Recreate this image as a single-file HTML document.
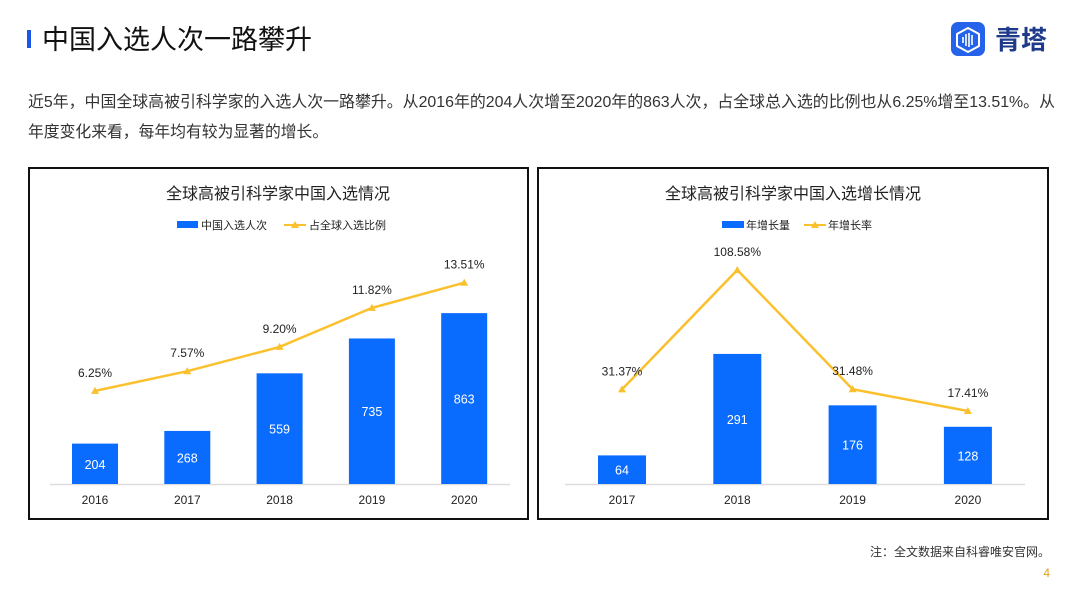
<!DOCTYPE html>
<html><head><meta charset="utf-8"><style>
html,body{margin:0;padding:0;background:#fff;}
body{width:1080px;height:603px;overflow:hidden;position:relative;font-family:"Liberation Sans","Noto Sans CJK SC",sans-serif;}
svg text{font-family:"Liberation Sans","Noto Sans CJK SC",sans-serif;}
</style></head><body>
<svg width="1080" height="603" viewBox="0 0 1080 603" xmlns="http://www.w3.org/2000/svg" id="root">
 <rect x="27" y="30" width="4" height="18" fill="#1a56e8"/>
 <text x="42" y="49" font-size="27" fill="#111" textLength="270" lengthAdjust="spacingAndGlyphs">中国入选人次一路攀升</text>
 <g>
  <rect x="951" y="22" width="34" height="34" rx="7" fill="#2563eb"/>
  <polygon points="968,28 979,34 979,46 968,52 957,46 957,34" fill="none" stroke="#fff" stroke-width="2"/>
  <g stroke="#fff" stroke-width="1.6"><line x1="963" y1="37" x2="963" y2="43"/><line x1="966" y1="34" x2="966" y2="46"/><line x1="969" y1="33" x2="969" y2="47"/><line x1="972" y1="35" x2="972" y2="45"/></g>
  <text x="995" y="49" font-size="26" fill="#1e3a8a" font-weight="bold">青塔</text>
 </g>
 <text x="28" y="107" font-size="15.8" fill="#333" textLength="1027" lengthAdjust="spacingAndGlyphs">近5年，中国全球高被引科学家的入选人次一路攀升。从2016年的204人次增至2020年的863人次，占全球总入选的比例也从6.25%增至13.51%。从</text>
 <text x="28" y="137" font-size="15.8" fill="#333">年度变化来看，每年均有较为显著的增长。</text>
 <rect x="29" y="168" width="499" height="351" fill="none" stroke="#111" stroke-width="2"/>
 <rect x="538" y="168" width="510" height="351" fill="none" stroke="#111" stroke-width="2"/>
 <text x="278" y="199" font-size="16" fill="#222" text-anchor="middle">全球高被引科学家中国入选情况</text>
 <text x="793" y="199" font-size="16" fill="#222" text-anchor="middle">全球高被引科学家中国入选增长情况</text>
 <g>
  <rect x="177" y="221" width="21" height="7" fill="#0a6cff"/>
  <text x="201" y="229" font-size="11" fill="#222">中国入选人次</text>
  <line x1="284" y1="225" x2="306" y2="225" stroke="#fbc02d" stroke-width="2"/>
  <polygon points="295,221 299,228 291,228" fill="#fbc02d"/>
  <text x="309" y="229" font-size="11" fill="#222">占全球入选比例</text>
 </g>
 <g>
  <rect x="722" y="221" width="22" height="7" fill="#0a6cff"/>
  <text x="746" y="229" font-size="11" fill="#222">年增长量</text>
  <line x1="804" y1="225" x2="826" y2="225" stroke="#fbc02d" stroke-width="2"/>
  <polygon points="815,221 819,228 811,228" fill="#fbc02d"/>
  <text x="828" y="229" font-size="11" fill="#222">年增长率</text>
 </g>
 <g id="left"></g>
 <g id="right"></g>
 <text x="1050" y="556" font-size="12" fill="#333" text-anchor="end">注：全文数据来自科睿唯安官网。</text>
 <text x="1050" y="577" font-size="12" fill="#e0a020" text-anchor="end">4</text>
</svg>
<script>
const leftYears=["2016","2017","2018","2019","2020"];
const leftCounts=[204,268,559,735,863];
const leftShares=[6.25,7.57,9.20,11.82,13.51];
const rightYears=["2017","2018","2019","2020"];
const rightGrowth=[64,291,176,128];
const rightRates=[31.37,108.58,31.48,17.41];
const NS="http://www.w3.org/2000/svg";
function mk(p,t,a){const e=document.createElementNS(NS,t);for(const k in a)e.setAttribute(k,a[k]);p.appendChild(e);return e;}
function draw(g,cats,bars,rates,x0,step,bw,barScale,lineY,axX1,axX2,name){
 const base=484;
 const ax=mk(g,'line',{x1:axX1,x2:axX2,y1:base+0.5,y2:base+0.5,stroke:'#ddd','stroke-width':1.5});
 
 
 const xc=i=>x0+i*step;
 cats.forEach((c,i)=>{
  const h=bars[i]*barScale;
  const r=mk(g,'rect',{x:xc(i)-bw/2,y:base-h,width:bw,height:h,fill:'#0a6cff'});
  
  
  const t=mk(g,'text',{x:xc(i),y:base-h/2+5,'font-size':12.5,fill:'#fff','text-anchor':'middle'});t.textContent=bars[i];
  
  
  const l=mk(g,'text',{x:xc(i),y:504,'font-size':12,fill:'#222','text-anchor':'middle'});l.textContent=c;
  
  
 });
 const pts=rates.map((v,i)=>[xc(i),lineY(v)]);
 const pl=mk(g,'polyline',{points:pts.map(p=>p.join(',')).join(' '),fill:'none',stroke:'#fbc02d','stroke-width':2.5});
 
 
 pts.forEach((p,i)=>{
  const m=mk(g,'polygon',{points:`${p[0]},${p[1]-4} ${p[0]+4},${p[1]+3} ${p[0]-4},${p[1]+3}`,fill:'#fbc02d'});
  
  
  const t=mk(g,'text',{x:p[0],y:p[1]-14,'font-size':12,fill:'#222','text-anchor':'middle'});t.textContent=rates[i].toFixed(2)+'%';
  
  
 });
}
draw(document.getElementById('left'),leftYears,leftCounts,leftShares,95,92.3,46,0.198,v=>484-v*14.9,50,510,'left');
draw(document.getElementById('right'),rightYears,rightGrowth,rightRates,622,115.3,48,0.447,v=>411-(v-17.41)*1.547,565,1025,'right');
</script>
</body></html>
